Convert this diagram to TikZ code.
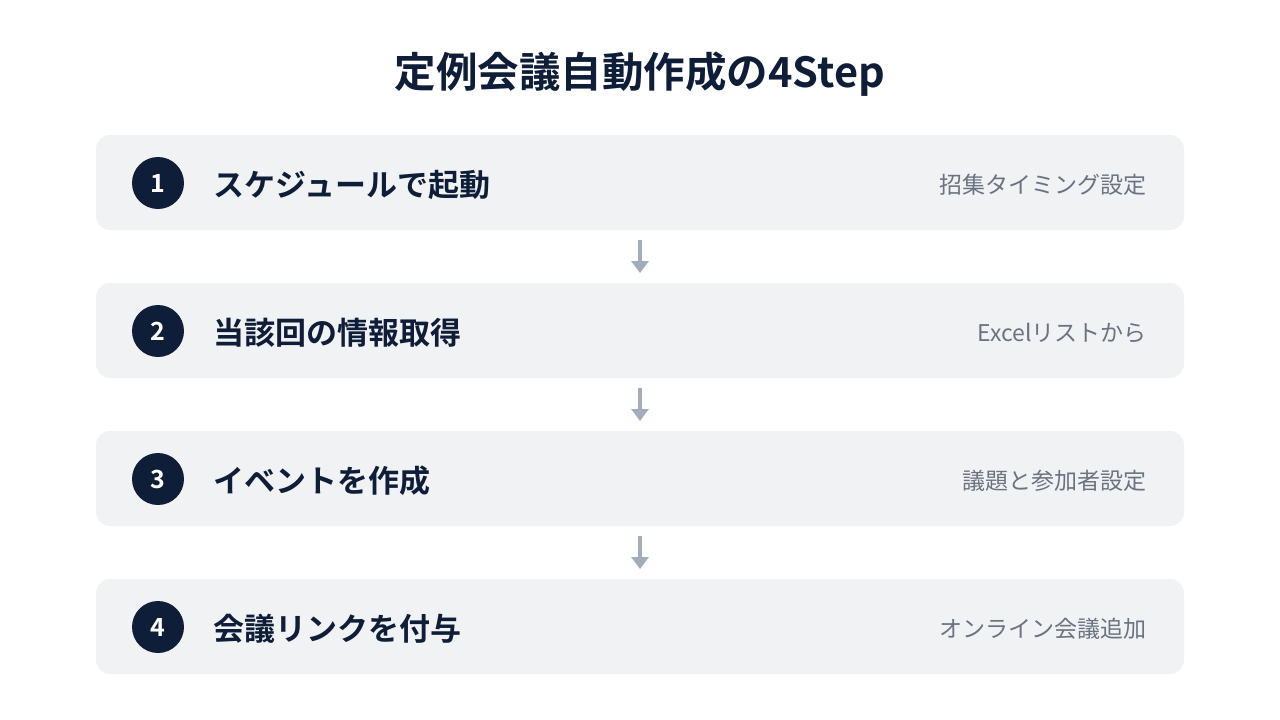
\documentclass[tikz,border=0pt]{standalone}
\usepackage{fontspec}
\setmainfont{Noto Sans CJK JP}
\newfontfamily\jpbold{Noto Sans CJK JP Bold}
\definecolor{navy}{HTML}{0F1E38}
\definecolor{boxbg}{HTML}{F1F2F4}
\definecolor{subgray}{HTML}{6B7280}
\definecolor{arrowgray}{HTML}{A3ACB9}
\usetikzlibrary{arrows.meta}
\tikzset{
  stepbox/.style={fill=boxbg, rounded corners=14pt, draw=none},
  numdot/.style={circle, fill=navy, minimum size=52pt, inner sep=0pt, text=white, font=\jpbold\fontsize{25}{25}\selectfont},
  steptitle/.style={anchor=west, text=navy, font=\jpbold\fontsize{31}{31}\selectfont, inner sep=0pt},
  stepsub/.style={anchor=east, text=subgray, font=\fontsize{23}{23}\selectfont, inner sep=0pt},
  flowarrow/.style={draw=arrowgray, line width=3.5pt, -{Triangle[width=17pt,length=12pt]}}
}
\begin{document}
\begin{tikzpicture}[x=1pt,y=-1pt]
\useasboundingbox (0,0) rectangle (1280,720);
\node[text=navy, font=\jpbold\fontsize{41.5}{41.5}\selectfont] (title) at (640,74) {定例会議自動作成の4Step};
\foreach \i/\y/\t/\s in {1/135/スケジュールで起動/招集タイミング設定, 2/283/当該回の情報取得/Excelリストから, 3/431/イベントを作成/議題と参加者設定, 4/579/会議リンクを付与/オンライン会議追加}{
  \path[stepbox] (96,\y) rectangle (1184,\y+95);
  \coordinate (box\i top) at (640,\y);
  \coordinate (box\i bot) at (640,\y+95);
  \node[numdot] (num\i) at (158,\y+48) {\raisebox{-1.5pt}{\i}};
  \node[steptitle] (title\i) at (213,\y+50) {\t};
  \node[stepsub] (sub\i) at (1147,\y+50) {\s};
}
\foreach \a/\b in {1/2,2/3,3/4}{
  \draw[flowarrow] ([yshift=-10pt]box\a bot) -- ([yshift=10pt]box\b top);
}
\end{tikzpicture}
\end{document}
